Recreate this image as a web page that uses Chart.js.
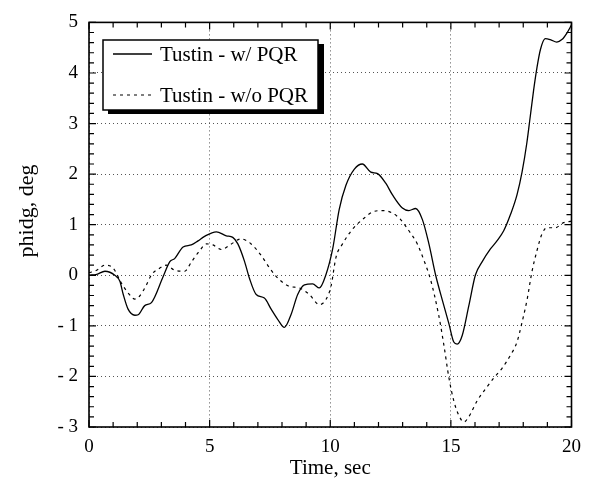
<!DOCTYPE html>
<html>
<head>
<meta charset="utf-8">
<script src="https://cdn.jsdelivr.net/npm/chart.js@4.4.1/dist/chart.umd.min.js"></script>
<style>
  body { margin: 0; background: #fff; }
  canvas { display: block; }
</style>
</head>
<body>
<canvas id="phiChart" width="590" height="487"></canvas>
<script>
// time (sec) and phidg (deg)
const timeWithPQR = [0, 0.32, 0.66, 1.07, 1.28, 1.42, 1.62, 1.9, 2.04, 2.31, 2.59, 3.07, 3.35, 3.55, 3.9, 4.24, 4.52, 4.79,
  5.28, 5.69, 5.96, 6.17, 6.45, 6.65, 6.93, 7.27, 7.55, 7.82, 8.1, 8.38, 8.65, 8.93, 9.27, 9.55, 9.82,
  10.1, 10.37, 10.65, 11.0, 11.33, 11.68, 11.96, 12.3, 12.58, 12.99, 13.26, 13.54, 13.82, 14.09, 14.37, 14.64, 14.92,
  15.12, 15.26, 15.47, 15.74, 16.02, 16.3, 16.64, 16.91, 17.19, 17.47, 17.74, 17.95, 18.15, 18.29, 18.43, 18.57,
  18.71, 18.91, 19.12, 19.39, 19.6, 19.81, 20.0];
const phiWithPQR = [0, 0.02, 0.08, 0.0, -0.12, -0.38, -0.67, -0.79, -0.78, -0.6, -0.54, -0.03, 0.27, 0.33, 0.56, 0.6, 0.68, 0.77,
  0.86, 0.78, 0.75, 0.62, 0.27, -0.06, -0.38, -0.45, -0.67, -0.87, -1.03, -0.77, -0.38, -0.19, -0.17, -0.25, 0.01,
  0.52, 1.3, 1.78, 2.1, 2.2, 2.04, 2.01, 1.82, 1.59, 1.33, 1.28, 1.32, 1.1, 0.62, 0.0, -0.48, -0.96,
  -1.32, -1.36, -1.19, -0.61, 0.01, 0.27, 0.52, 0.68, 0.88, 1.2, 1.59, 2.04, 2.62, 3.14, 3.66, 4.11,
  4.46, 4.68, 4.66, 4.61, 4.66, 4.79, 4.95];

const timeWithoutPQR = [0, 0.32, 0.66, 1.0, 1.35, 1.62, 1.9, 2.1, 2.38, 2.59, 2.93, 3.2, 3.55, 3.97, 4.24, 4.59, 4.86,
  5.14, 5.48, 5.9, 6.3, 6.72, 7.14, 7.55, 7.9, 8.31, 8.72, 9.13, 9.55, 9.82, 10.03, 10.24, 10.51, 10.92,
  11.33, 11.75, 12.16, 12.58, 12.92, 13.26, 13.61, 13.88, 14.16, 14.5, 14.71, 14.92, 15.12, 15.33, 15.54, 15.74,
  16.09, 16.43, 16.78, 17.12, 17.47, 17.74, 17.95, 18.16, 18.36, 18.57, 18.77, 18.98, 19.32, 19.67, 20.0];
const phiWithoutPQR = [0.05, 0.1, 0.2, 0.14, -0.16, -0.35, -0.47, -0.41, -0.19, 0.01, 0.14, 0.2, 0.1, 0.08, 0.26, 0.49, 0.62,
  0.6, 0.51, 0.62, 0.72, 0.62, 0.39, 0.1, -0.09, -0.22, -0.25, -0.38, -0.58, -0.48, -0.22, 0.36, 0.62, 0.91,
  1.1, 1.25, 1.28, 1.23, 1.1, 0.88, 0.62, 0.3, -0.09, -0.8, -1.38, -2.03, -2.48, -2.77, -2.9, -2.8,
  -2.48, -2.25, -2.03, -1.84, -1.58, -1.32, -0.93, -0.48, 0.07, 0.49, 0.81, 0.94, 0.94, 1.04, 1.07];

const seriesLabels = ['Tustin - w/ PQR', 'Tustin - w/o PQR'];
const xTicks = [0, 5, 10, 15, 20];
const yTicks = [-3, -2, -1, 0, 1, 2, 3, 4, 5];
const yTitle = 'phidg, deg';

const serif = '"Liberation Serif", "DejaVu Serif", serif';

function toPoints(xs, ys) {
    return xs.map(function(x, i) { return { x: x, y: ys[i] }; });
}

// frame with inward major/minor ticks on all four sides
const framePlugin = {
    id: 'frame',
    afterDatasetsDraw: function(chart) {
        const ctx = chart.ctx;
        const a = chart.chartArea;
        const xs = chart.scales.x;
        const ys = chart.scales.y;
        ctx.save();
        ctx.strokeStyle = '#000';
        ctx.lineWidth = 1.6;
        ctx.strokeRect(a.left, a.top, a.right - a.left, a.bottom - a.top);
        ctx.lineWidth = 1.2;
        ctx.beginPath();
        for (let t = 0; t <= 20; t += 1) {
            const px = xs.getPixelForValue(t);
            const len = (t % 5 === 0) ? 7 : 5;
            ctx.moveTo(px, a.bottom); ctx.lineTo(px, a.bottom - len);
            ctx.moveTo(px, a.top); ctx.lineTo(px, a.top + len);
        }
        for (let k = -15; k <= 25; k++) {
            const py = ys.getPixelForValue(k / 5);
            const len = (k % 5 === 0) ? 7 : 5;
            ctx.moveTo(a.left, py); ctx.lineTo(a.left + len, py);
            ctx.moveTo(a.right, py); ctx.lineTo(a.right - len, py);
        }
        ctx.stroke();

        // y axis title, sits a bit above the plot centre like the original
        ctx.font = '22px ' + serif;
        ctx.fillStyle = '#000';
        ctx.textAlign = 'center';
        ctx.textBaseline = 'middle';
        ctx.translate(27, 211);
        ctx.rotate(-Math.PI / 2);
        ctx.fillText(yTitle, 0, 0);
        ctx.restore();
    }
};

// boxed legend with drop shadow, inside the plot
const legendBoxPlugin = {
    id: 'legendBox',
    afterDraw: function(chart) {
        const ctx = chart.ctx;
        const bx = 103, by = 40, bw = 215, bh = 70;
        ctx.save();
        ctx.fillStyle = '#000';
        ctx.fillRect(bx + 5, by + 4, bw + 1, bh);
        ctx.fillStyle = '#fff';
        ctx.fillRect(bx, by, bw, bh);
        ctx.strokeStyle = '#000';
        ctx.lineWidth = 1.5;
        ctx.strokeRect(bx, by, bw, bh);

        ctx.font = '21px ' + serif;
        ctx.textBaseline = 'alphabetic';
        ctx.textAlign = 'left';
        const rows = [61, 102];
        chart.data.datasets.forEach(function(ds, i) {
            const y = rows[i] - 7;
            ctx.strokeStyle = ds.borderColor;
            ctx.lineWidth = ds.borderWidth;
            ctx.setLineDash(ds.borderDash || []);
            ctx.beginPath();
            ctx.moveTo(113, y);
            ctx.lineTo(152, y);
            ctx.stroke();
            ctx.setLineDash([]);
            ctx.fillStyle = '#000';
            ctx.fillText(ds.label, 160, rows[i]);
        });
        ctx.restore();
    }
};

const ctx = document.getElementById('phiChart').getContext('2d');
const phiChart = new Chart(ctx, {
    type: 'scatter',
    data: {
        datasets: [{
            label: seriesLabels[0],
            data: toPoints(timeWithPQR, phiWithPQR),
            showLine: true,
            borderColor: '#000',
            borderWidth: 1.3,
            pointRadius: 0,
            cubicInterpolationMode: 'monotone',
            fill: false
        }, {
            label: seriesLabels[1],
            data: toPoints(timeWithoutPQR, phiWithoutPQR),
            showLine: true,
            borderColor: '#000',
            borderWidth: 1.2,
            borderDash: [3, 4],
            pointRadius: 0,
            cubicInterpolationMode: 'monotone',
            fill: false
        }]
    },
    options: {
        responsive: false,
        animation: false,
        layout: {
            padding: { left: 0, right: 17, top: 14, bottom: 0 }
        },
        plugins: {
            legend: { display: false },
            tooltip: { enabled: false }
        },
        scales: {
            x: {
                type: 'linear',
                min: 0,
                max: 20,
                afterFit: function(scale) { scale.height = 60; },
                afterBuildTicks: function(scale) {
                    scale.ticks = xTicks.map(function(v) { return { value: v }; });
                },
                grid: {
                    color: '#555',
                    lineWidth: 1,
                    drawTicks: false
                },
                border: { display: false, dash: [1, 3] },
                ticks: {
                    padding: 9,
                    color: '#000',
                    font: { family: serif, size: 19 }
                },
                title: {
                    display: true,
                    text: 'Time, sec',
                    color: '#000',
                    font: { family: serif, size: 21 },
                    padding: { top: 0, bottom: 6 }
                }
            },
            y: {
                type: 'linear',
                min: -3,
                max: 5,
                afterFit: function(scale) { scale.width = 89; },
                afterBuildTicks: function(scale) {
                    scale.ticks = yTicks.map(function(v) { return { value: v }; });
                },
                grid: {
                    color: '#555',
                    lineWidth: 1,
                    drawTicks: false
                },
                border: { display: false, dash: [1, 3] },
                ticks: {
                    padding: 11,
                    color: '#000',
                    font: { family: serif, size: 19 },
                    callback: function(value) {
                        return value < 0 ? '- ' + (-value) : String(value);
                    }
                },
                title: { display: false }
            }
        }
    },
    plugins: [framePlugin, legendBoxPlugin]
});
</script>
</body>
</html>
